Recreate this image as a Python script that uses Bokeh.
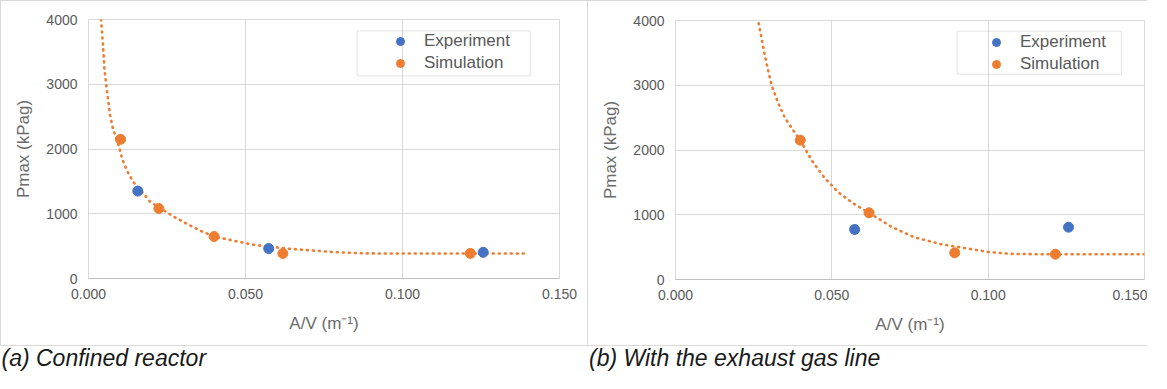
from bokeh.plotting import figure
from bokeh.models import (FixedTicker, Range1d, Legend, LegendItem, BoxAnnotation, Div,
                          InlineStyleSheet)
from bokeh.layouts import row, column
from bokeh.embed import file_html
from bokeh.resources import INLINE

# ---------------- data ----------------
x_ticks = [0.0, 0.05, 0.10, 0.15]
x_tick_labels = ["0.000", "0.050", "0.100", "0.150"]
y_ticks = [0, 1000, 2000, 3000, 4000]
y_tick_labels = ["0", "1000", "2000", "3000", "4000"]

# (a) Confined reactor
a_exp_x = [0.0157, 0.0574, 0.1257]
a_exp_y = [1350, 462, 404]
a_sim_x = [0.0102, 0.0224, 0.0400, 0.0619, 0.1216]
a_sim_y = [2149, 1080, 648, 386, 388]
a_trend_x = [0.0040, 0.0046, 0.0051, 0.0056, 0.0061, 0.0069, 0.0077, 0.0084,
             0.0097, 0.0107, 0.0123, 0.0143, 0.0165, 0.0196, 0.0226, 0.0270,
             0.0312, 0.0355, 0.0400, 0.0470, 0.0534, 0.0630, 0.0774, 0.0876,
             0.1000, 0.1200, 0.1397]
a_trend_y = [4000, 3615, 3213, 3008, 2812, 2519, 2329, 2226,
             2041, 1851, 1660, 1490, 1370, 1188, 1095, 960,
             848, 740, 648, 575, 514, 463, 410, 388,
             386, 386, 386]

# (b) With the exhaust gas line
b_exp_x = [0.0573, 0.1257]
b_exp_y = [772, 808]
b_sim_x = [0.0399, 0.0619, 0.0893, 0.1215]
b_sim_y = [2151, 1030, 412, 391]
b_trend_x = [0.0266, 0.0286, 0.0306, 0.0327, 0.0349, 0.0374, 0.0399, 0.0437,
             0.0475, 0.0520, 0.0570, 0.0619, 0.0693, 0.0763, 0.0850, 0.0940,
             0.1000, 0.1069, 0.1150, 0.1500]
b_trend_y = [3957, 3450, 3023, 2740, 2507, 2320, 2151, 1830,
             1580, 1350, 1170, 1030, 808, 653, 545, 474,
             425, 397, 390, 390]

series_labels = ["Experiment", "Simulation"]
x_title = "A/V (m\u207b\u00b9)"
y_title = "Pmax (kPag)"
captions = ["(a) Confined reactor", "(b) With the exhaust gas line"]

# ---------------- style ----------------
FONT = "Liberation Sans"
BLUE = "#4472C4"
ORANGE = "#ED7D31"
GRID = "#D9D9D9"
TICK_COL = "#595959"
TITLE_COL = "#6B6B6B"
PH = 346   # panel height
CH = 24    # caption strip height


def panel_css():
    sides = "border-left: 1px solid %s; border-top: 1px solid %s; border-bottom: 1px solid %s;" % (GRID, GRID, GRID)
    return InlineStyleSheet(css=(
        ":host { position: relative; } "
        ":host::after { content: ''; position: absolute; left: 0; top: 0; right: 0; bottom: 0; "
        "box-sizing: border-box; pointer-events: none; " + sides + " }"))


def panel(width, b_left, b_top, frame_w, frame_h, exp_x, exp_y, sim_x, sim_y,
          tr_x, tr_y, leg_loc, leg_box):
    p = figure(width=width, height=PH, title=None,
               x_range=Range1d(0, 0.150), y_range=Range1d(0, 4000),
               output_backend="svg", toolbar_location=None,
               min_border_left=b_left, min_border_top=b_top,
               min_border_right=width - b_left - frame_w,
               min_border_bottom=PH - b_top - frame_h)
    p.frame_align = False
    p.background_fill_color = "white"
    p.border_fill_color = "white"
    p.outline_line_color = GRID
    p.outline_line_width = 1

    p.xaxis.ticker = FixedTicker(ticks=x_ticks)
    p.yaxis.ticker = FixedTicker(ticks=y_ticks)
    p.xgrid.ticker = FixedTicker(ticks=x_ticks)
    p.ygrid.ticker = FixedTicker(ticks=y_ticks)
    p.xaxis.major_label_overrides = {t: l for t, l in zip(x_ticks, x_tick_labels)}
    p.yaxis.major_label_overrides = {t: l for t, l in zip(y_ticks, y_tick_labels)}
    for ax in (p.xaxis[0], p.yaxis[0]):
        ax.major_tick_line_color = None
        ax.minor_tick_line_color = None
        ax.major_tick_out = 0
        ax.major_tick_in = 0
        ax.major_label_text_font = FONT
        ax.major_label_text_font_size = "14px"
        ax.major_label_text_color = TICK_COL
        ax.axis_label_text_font = FONT
        ax.axis_label_text_font_size = "17px"
        ax.axis_label_text_font_style = "normal"
        ax.axis_label_text_color = TITLE_COL
    p.xaxis.axis_line_color = "#BFBFBF"
    p.yaxis.axis_line_color = None
    p.xaxis.major_label_standoff = 10
    p.yaxis.major_label_standoff = 11
    p.xaxis.axis_label = x_title
    p.yaxis.axis_label = y_title
    p.xaxis.axis_label_standoff = 12
    p.yaxis.axis_label_standoff = 10
    p.xgrid.grid_line_color = GRID
    p.ygrid.grid_line_color = GRID

    p.line(tr_x, tr_y, line_color=ORANGE, line_width=2.6, line_dash="1 5",
           line_cap="round")
    r_exp = p.scatter(exp_x, exp_y, size=10, fill_color=BLUE, line_color=BLUE)
    r_sim = p.scatter(sim_x, sim_y, size=10, fill_color=ORANGE, line_color=ORANGE)

    leg = Legend(items=[LegendItem(label=series_labels[0], renderers=[r_exp]),
                        LegendItem(label=series_labels[1], renderers=[r_sim])],
                 location=leg_loc, padding=0, spacing=2, margin=0,
                 glyph_width=20, glyph_height=20, label_height=20,
                 label_standoff=14, border_line_color=None,
                 background_fill_alpha=0,
                 label_text_font=FONT, label_text_font_size="17px",
                 label_text_color=TICK_COL)
    p.add_layout(leg)

    l, r, t, b = leg_box
    p.add_layout(BoxAnnotation(left=l, right=r, top=t, bottom=b,
                               left_units="screen", right_units="screen",
                               top_units="screen", bottom_units="screen",
                               fill_alpha=0, line_color="#A6A6A6", line_width=1))
    return p


def caption_div(width, text, indent):
    return Div(text=text, width=width, height=CH, margin=0,
               styles={"font-family": "'Liberation Sans', Arial, sans-serif",
                       "font-size": "23px", "font-style": "italic",
                       "color": "#1A1A1A", "line-height": "%dpx" % CH,
                       "text-indent": "%spx" % indent, "white-space": "nowrap",
                       "overflow": "visible"})


p1 = panel(587, 88, 19, 471, 259, a_exp_x, a_exp_y, a_sim_x, a_sim_y,
           a_trend_x, a_trend_y, (302, 205), (268.6, 441.7, 247.6, 202.6))
p2 = panel(560, 88, 20, 469, 259, b_exp_x, b_exp_y, b_sim_x, b_sim_y,
           b_trend_x, b_trend_y, (311, 205), (281.6, 445.9, 248.3, 205.3))
p1.stylesheets = [panel_css()]
p2.stylesheets = [panel_css()]

c1 = caption_div(587, captions[0], 1.5)
c2 = caption_div(560, captions[1], 2)

layout = row(column(p1, c1), column(p2, c2))
open("out.html", "w").write(file_html(layout, INLINE))
